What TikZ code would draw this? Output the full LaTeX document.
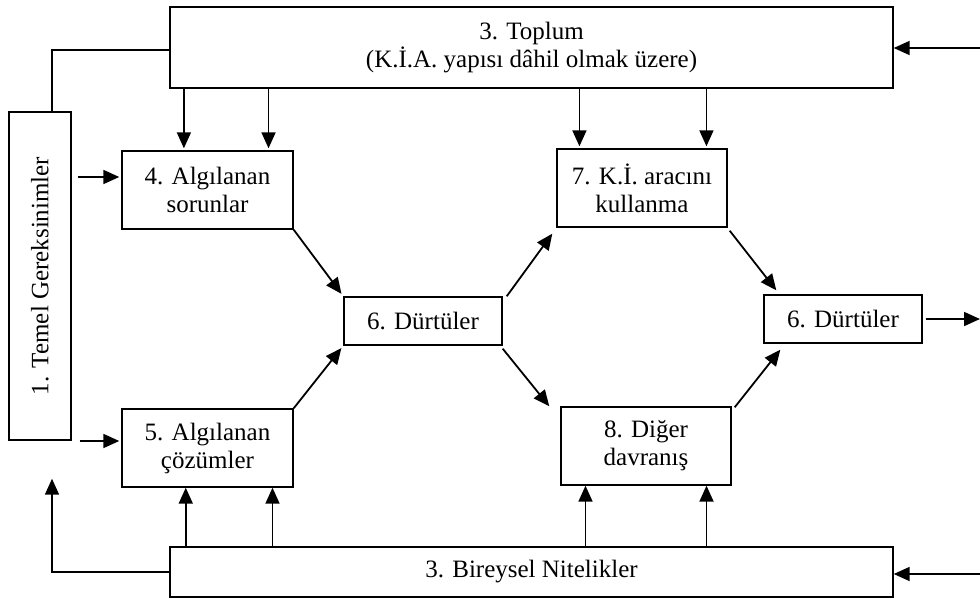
\documentclass[tikz,border=0pt]{standalone}
\usepackage{fontspec}
\setmainfont{Liberation Serif}
\usepackage{graphicx}
\usetikzlibrary{arrows.meta, calc}

\begin{document}
\begin{tikzpicture}[x=0.5pt, y=-0.5pt,
			box/.style = {draw, line width=0.7pt, inner sep=0pt, align=center, font=\fontsize{12.5}{14}\selectfont},
			wide/.style = {box, minimum width=361.5pt},
			mid/.style = {box, minimum width=85.5pt, minimum height=39pt},
			small/.style = {box, minimum width=79pt, minimum height=24pt},
			arr/.style = {line width=0.9pt, -{Triangle[length=8pt,width=7pt]}},
			link/.style = {line width=0.9pt}]
			\useasboundingbox (0,0) rectangle (980,599);
			% boxes
			\node [wide, minimum height=40.5pt] (toplum) at (531.5,47.5) {3. Toplum\\(K.İ.A. yapısı dâhil olmak üzere)};
			\node [box, minimum width=31pt, minimum height=164pt] (temel) at (40,276) {\rotatebox{90}{1. Temel Gereksinimler}};
			\node [mid] (sorun) at (207.5,190) {4. Algılanan\\sorunlar};
			\node [mid] (cozum) at (207.5,448) {5. Algılanan\\çözümler};
			\node [small] (durtu) at (423,321) {6. Dürtüler};
			\node [mid, minimum width=85pt] (arac) at (642,188) {7. K.İ. aracını\\kullanma};
			\node [mid, minimum width=85pt] (diger) at (646,446) {8. Diğer\\davranış};
			\node [small] (durtuR) at (843,319) {6. Dürtüler};
			\node [wide, minimum height=25pt] (birey) at (531.5,572) {3. Bireysel Nitelikler};
			\coordinate (inT) at (980,48);
			\coordinate (inB) at (980,574);
			\coordinate (out) at (980,319);
			% from the top box
			\foreach \f in {.363,.854} {
				\path ($(sorun.north west)!\f!(sorun.north east)$) coordinate (p);
				\draw [arr, shorten >=1pt] (toplum.south -| p) -- (p);
			}
			\foreach \f in {.135,.876} {
				\path ($(arac.north west)!\f!(arac.north east)$) coordinate (p);
				\draw [arr, shorten >=1pt] (toplum.south -| p) -- (p);
			}
			% from the bottom box
			\foreach \f in {.374,.877} {
				\path ($(cozum.south west)!\f!(cozum.south east)$) coordinate (p);
				\draw [arr] (birey.north -| p) -- (p);
			}
			\foreach \f in {.147,.853} {
				\path ($(diger.south west)!\f!(diger.south east)$) coordinate (p);
				\draw [arr] (birey.north -| p) -- (p);
			}
			% left side
			\draw [link] ([yshift=-1.25pt]toplum.west) -| ([xshift=6pt]temel.north);
			\draw [arr] (birey.west) -| ([shift={(6pt,-19pt)}]temel.south);
			\draw [arr] ($(temel.east |- sorun.west)+(3pt,6.5pt)$) -- ($(sorun.west)+(-1pt,6.5pt)$);
			\draw [arr] ($(temel.east |- cozum.west)+(4pt,3.5pt)$) -- ($(cozum.west)+(-1pt,3.5pt)$);
			% diagonals
			\draw [arr, shorten >=1.5pt] (sorun.south east) -- (durtu.north west);
			\draw [arr, shorten >=1.5pt] (cozum.north east) -- (durtu.south west);
			\draw [arr] ([xshift=2pt]durtu.north east) -- ([shift={(-2pt,-3pt)}]arac.south west);
			\draw [arr] ([yshift=-1.5pt]durtu.south east) -- ([xshift=-5.5pt]diger.north west);
			\draw [arr] ([shift={(1pt,-1.5pt)}]arac.south east) -- ([shift={(6.5pt,2pt)}]durtuR.north west);
			\draw [arr] ([shift={(1.5pt,-0.5pt)}]diger.north east) -- ([shift={(8.5pt,-3pt)}]durtuR.south west);
			% right side
			\draw [arr] ([xshift=1.5pt]durtuR.east) -- (out);
			\draw [arr] (inT) -- (inT -| toplum.east);
			\draw [arr] (inB) -- (inB -| birey.east);
		\end{tikzpicture}
\end{document}
